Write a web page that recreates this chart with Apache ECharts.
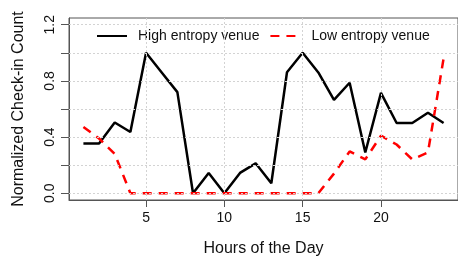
<!DOCTYPE html>
<html>
<head>
<meta charset="utf-8">
<script src="https://cdn.jsdelivr.net/npm/echarts@6/dist/echarts.min.js"></script>
<style>html,body{margin:0;padding:0;background:#fff}#c{width:458px;height:262px}</style>
</head>
<body>
<div id="c"></div>
<script>
var hours = [1,2,3,4,5,6,7,8,9,10,11,12,13,14,15,16,17,18,19,20,21,22,23,24];
var highEntropy = [0.355,0.355,0.504,0.436,1.0,0.86,0.72,0.0,0.145,0.0,0.145,0.213,0.071,0.862,1.0,0.86,0.665,0.787,0.29,0.715,0.5,0.5,0.573,0.5];
var lowEntropy = [0.472,0.39,0.28,0,0,0,0,0,0,0,0,0,0,0,0,0,0.14,0.298,0.241,0.41,0.347,0.241,0.29,0.96];
var xTicks = [5,10,15,20];
var yTicks = [0,0.2,0.4,0.6,0.8,1.0,1.2];
var yLabels = [0,0.4,0.8,1.2];
var seriesNames = ['High entropy venue','Low entropy venue'];
var xTitle = 'Hours of the Day';
var yTitle = 'Normalized Check-in Count';

var FONT = 'Liberation Sans, Arial, Helvetica, sans-serif';
function pairs(vals){ return hours.map(function(h,i){ return [h, vals[i]]; }); }
var gridMarks = xTicks.map(function(v){ return {xAxis: v}; }).concat(yTicks.map(function(v){ return {yAxis: v}; }));

var chart = echarts.init(document.getElementById('c'), null, {renderer:'canvas'});
chart.setOption({
  animation: false,
  backgroundColor: '#fff',
  textStyle: {fontFamily: FONT},
  grid: {left: 69, top: 18, width: 391.7, height: 188, show: true, borderColor: '#555', borderWidth: 1, backgroundColor: 'transparent'},
  legend: {
    left: 96, top: 29, padding: 0, itemWidth: 30, itemHeight: 14, itemGap: 10,
    data: seriesNames,
    itemStyle: {opacity: 0},
    textStyle: {fontSize: 14, color: '#111', fontFamily: FONT, padding: [0,0,0,6]}
  },
  xAxis: {
    type: 'value', min: 0.08, max: 24.92,
    name: xTitle, nameLocation: 'middle', nameGap: 41,
    nameTextStyle: {fontSize: 16, color: '#111', fontFamily: FONT},
    axisLine: {show: true, onZero: false, lineStyle: {color: '#555', width: 1}},
    axisTick: {show: true, length: 7, customValues: xTicks, lineStyle: {color: '#555'}},
    axisLabel: {show: true, customValues: xTicks, margin: 11, fontSize: 14, color: '#111', fontFamily: FONT},
    splitLine: {show: false}
  },
  yAxis: {
    type: 'value', min: -0.048, max: 1.248,
    name: yTitle, nameLocation: 'middle', nameGap: 42,
    nameTextStyle: {fontSize: 16, color: '#111', fontFamily: FONT},
    axisLine: {show: true, onZero: false, lineStyle: {color: '#555', width: 1}},
    axisTick: {show: true, length: 8, customValues: yTicks, lineStyle: {color: '#555'}},
    axisLabel: {show: true, customValues: yLabels, rotate: 90, margin: 12, fontSize: 14, color: '#111', fontFamily: FONT,
      formatter: function(v){ return (+v).toFixed(1); }},
    splitLine: {show: false}
  },
  series: [
    {
      name: '__grid', type: 'line', data: [], z: 1, silent: true,
      markLine: {silent: true, symbol: 'none', label: {show: false},
        lineStyle: {color: '#d3d3d3', type: [2,2], width: 1}, data: gridMarks}
    },
    {
      name: seriesNames[0], type: 'line', data: pairs(highEntropy), z: 3,
      symbol: 'none', showSymbol: false,
      lineStyle: {color: '#000', width: 2.5, type: 'solid'},
      itemStyle: {color: '#000'}
    },
    {
      name: seriesNames[1], type: 'line', data: pairs(lowEntropy), z: 4,
      symbol: 'none', showSymbol: false,
      lineStyle: {color: '#ff0000', width: 2.5, type: [9,7]},
      itemStyle: {color: '#ff0000'}
    }
  ]
});
</script>
</body>
</html>
